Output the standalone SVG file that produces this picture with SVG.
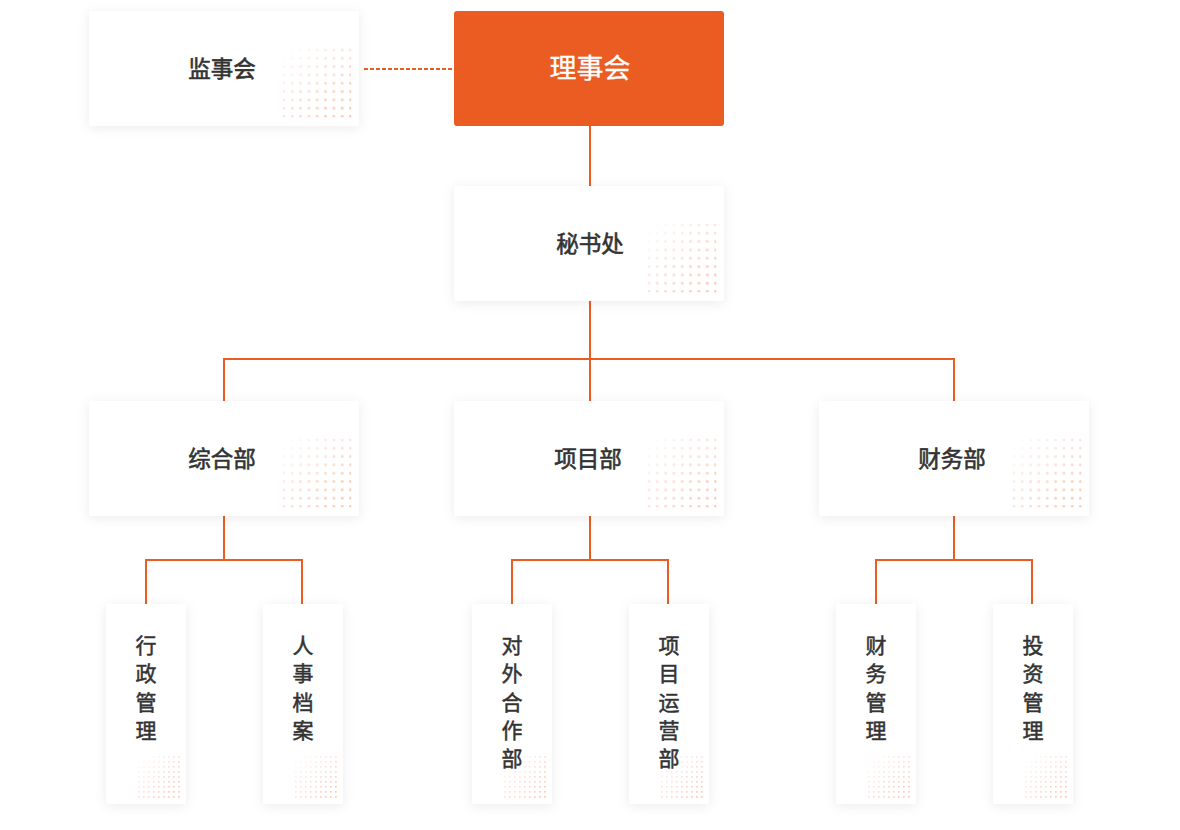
<svg xmlns="http://www.w3.org/2000/svg" width="1180" height="830" viewBox="0 0 1180 830">
<style>
.box{fill:#ffffff;filter:url(#shadow)}
.main{fill:#eb5c22}
.lbl{font-family:"Noto Sans CJK SC","Noto Sans",sans-serif;font-size:22.5px;font-weight:normal;fill:#333333;stroke:#333333;stroke-width:0.6;text-anchor:middle;dominant-baseline:central}
.mainlbl{font-family:"Noto Sans CJK SC","Noto Sans",sans-serif;font-size:27px;font-weight:normal;fill:#ffffff;stroke:#ffffff;stroke-width:0.3;text-anchor:middle;dominant-baseline:central}
.vlbl{font-family:"Noto Sans CJK SC","Noto Sans",sans-serif;font-size:21px;font-weight:normal;fill:#333333;stroke:#333333;stroke-width:0.5;text-anchor:middle;dominant-baseline:central}
.conn{stroke:#eb5c22;stroke-width:2;fill:none}
.dash{stroke:#eb5c22;stroke-width:2;fill:none;stroke-dasharray:4 2}
</style>
<defs>
<filter id="shadow" x="-20%" y="-20%" width="140%" height="140%">
<feDropShadow dx="0" dy="2" stdDeviation="6" flood-color="#000000" flood-opacity="0.08"/>
</filter>
<linearGradient id="fadeGrad" x1="0" y1="0" x2="1" y2="1">
<stop offset="0" stop-color="#ffffff" stop-opacity="0"/>
<stop offset="1" stop-color="#ffffff" stop-opacity="1"/>
</linearGradient>
<mask id="fade" maskContentUnits="objectBoundingBox">
<rect width="1" height="1" fill="url(#fadeGrad)"/>
</mask>
<pattern id="dotpat" width="8.33" height="8.33" patternUnits="userSpaceOnUse">
<rect x="0" y="0" width="2.8" height="2.8" rx="1" fill="#fac3ae"/>
</pattern>
<pattern id="dotpatS" width="5" height="5" patternUnits="userSpaceOnUse">
<rect x="0" y="0" width="1.7" height="1.7" fill="#fac3ae"/>
</pattern>
<g id="dots">
<rect x="0" y="0" width="69" height="69" fill="url(#dotpat)" mask="url(#fade)"/>
</g>
<g id="dotsS">
<rect x="0" y="0" width="43" height="43" fill="url(#dotpatS)" mask="url(#fade)"/>
</g>
</defs>
<rect width="1180" height="830" fill="#ffffff"/>
<g id="connectors">
<line class="dash" x1="364" y1="69" x2="452" y2="69"/>
<line class="conn" x1="590" y1="126" x2="590" y2="186"/>
<line class="conn" x1="590" y1="301" x2="590" y2="401"/>
<polyline class="conn" points="224,401 224,359 954,359 954,401"/>
<line class="conn" x1="224" y1="516" x2="224" y2="560"/>
<polyline class="conn" points="146,604 146,560 302,560 302,604"/>
<line class="conn" x1="590" y1="516" x2="590" y2="560"/>
<polyline class="conn" points="512,604 512,560 668,560 668,604"/>
<line class="conn" x1="954" y1="516" x2="954" y2="560"/>
<polyline class="conn" points="876,604 876,560 1032,560 1032,604"/>
</g>
<g id="jianshihui">
<rect class="box" x="89" y="11" width="270" height="115" rx="3"/>
<use href="#dots" x="282.5" y="48.5"/>
<text class="lbl" x="222" y="67">监事会</text>
</g>
<g id="lishihui">
<rect class="main" x="454" y="11" width="270" height="115" rx="3"/>
<text class="mainlbl" x="590" y="66">理事会</text>
</g>
<g id="mishuchu">
<rect class="box" x="454" y="186" width="270" height="115" rx="3"/>
<use href="#dots" x="647.5" y="223.5"/>
<text class="lbl" x="590" y="242">秘书处</text>
</g>
<g id="zonghebu">
<rect class="box" x="89" y="401" width="270" height="115" rx="3"/>
<use href="#dots" x="282.5" y="438.5"/>
<text class="lbl" x="222" y="457">综合部</text>
</g>
<g id="xiangmubu">
<rect class="box" x="454" y="401" width="270" height="115" rx="3"/>
<use href="#dots" x="647.5" y="438.5"/>
<text class="lbl" x="588" y="457">项目部</text>
</g>
<g id="caiwubu">
<rect class="box" x="819" y="401" width="270" height="115" rx="3"/>
<use href="#dots" x="1012.5" y="438.5"/>
<text class="lbl" x="952" y="457">财务部</text>
</g>
<g id="xingzheng">
<rect class="box" x="106" y="604" width="80" height="200" rx="3"/>
<use href="#dotsS" x="138" y="756"/>
<text class="vlbl" x="146" y="644">行</text>
<text class="vlbl" x="146" y="672.3">政</text>
<text class="vlbl" x="146" y="700.6">管</text>
<text class="vlbl" x="146" y="729">理</text>
</g>
<g id="renshi">
<rect class="box" x="263" y="604" width="80" height="200" rx="3"/>
<use href="#dotsS" x="295" y="756"/>
<text class="vlbl" x="303" y="644">人</text>
<text class="vlbl" x="303" y="672.3">事</text>
<text class="vlbl" x="303" y="700.6">档</text>
<text class="vlbl" x="303" y="729">案</text>
</g>
<g id="duiwai">
<rect class="box" x="472" y="604" width="80" height="200" rx="3"/>
<use href="#dotsS" x="504" y="756"/>
<text class="vlbl" x="512" y="644">对</text>
<text class="vlbl" x="512" y="672.3">外</text>
<text class="vlbl" x="512" y="700.6">合</text>
<text class="vlbl" x="512" y="729">作</text>
<text class="vlbl" x="512" y="757.3">部</text>
</g>
<g id="xiangmuyunying">
<rect class="box" x="629" y="604" width="80" height="200" rx="3"/>
<use href="#dotsS" x="661" y="756"/>
<text class="vlbl" x="669" y="644">项</text>
<text class="vlbl" x="669" y="672.3">目</text>
<text class="vlbl" x="669" y="700.6">运</text>
<text class="vlbl" x="669" y="729">营</text>
<text class="vlbl" x="669" y="757.3">部</text>
</g>
<g id="caiwuguanli">
<rect class="box" x="836" y="604" width="80" height="200" rx="3"/>
<use href="#dotsS" x="868" y="756"/>
<text class="vlbl" x="876" y="644">财</text>
<text class="vlbl" x="876" y="672.3">务</text>
<text class="vlbl" x="876" y="700.6">管</text>
<text class="vlbl" x="876" y="729">理</text>
</g>
<g id="touzi">
<rect class="box" x="993" y="604" width="80" height="200" rx="3"/>
<use href="#dotsS" x="1025" y="756"/>
<text class="vlbl" x="1033" y="644">投</text>
<text class="vlbl" x="1033" y="672.3">资</text>
<text class="vlbl" x="1033" y="700.6">管</text>
<text class="vlbl" x="1033" y="729">理</text>
</g>
</svg>
